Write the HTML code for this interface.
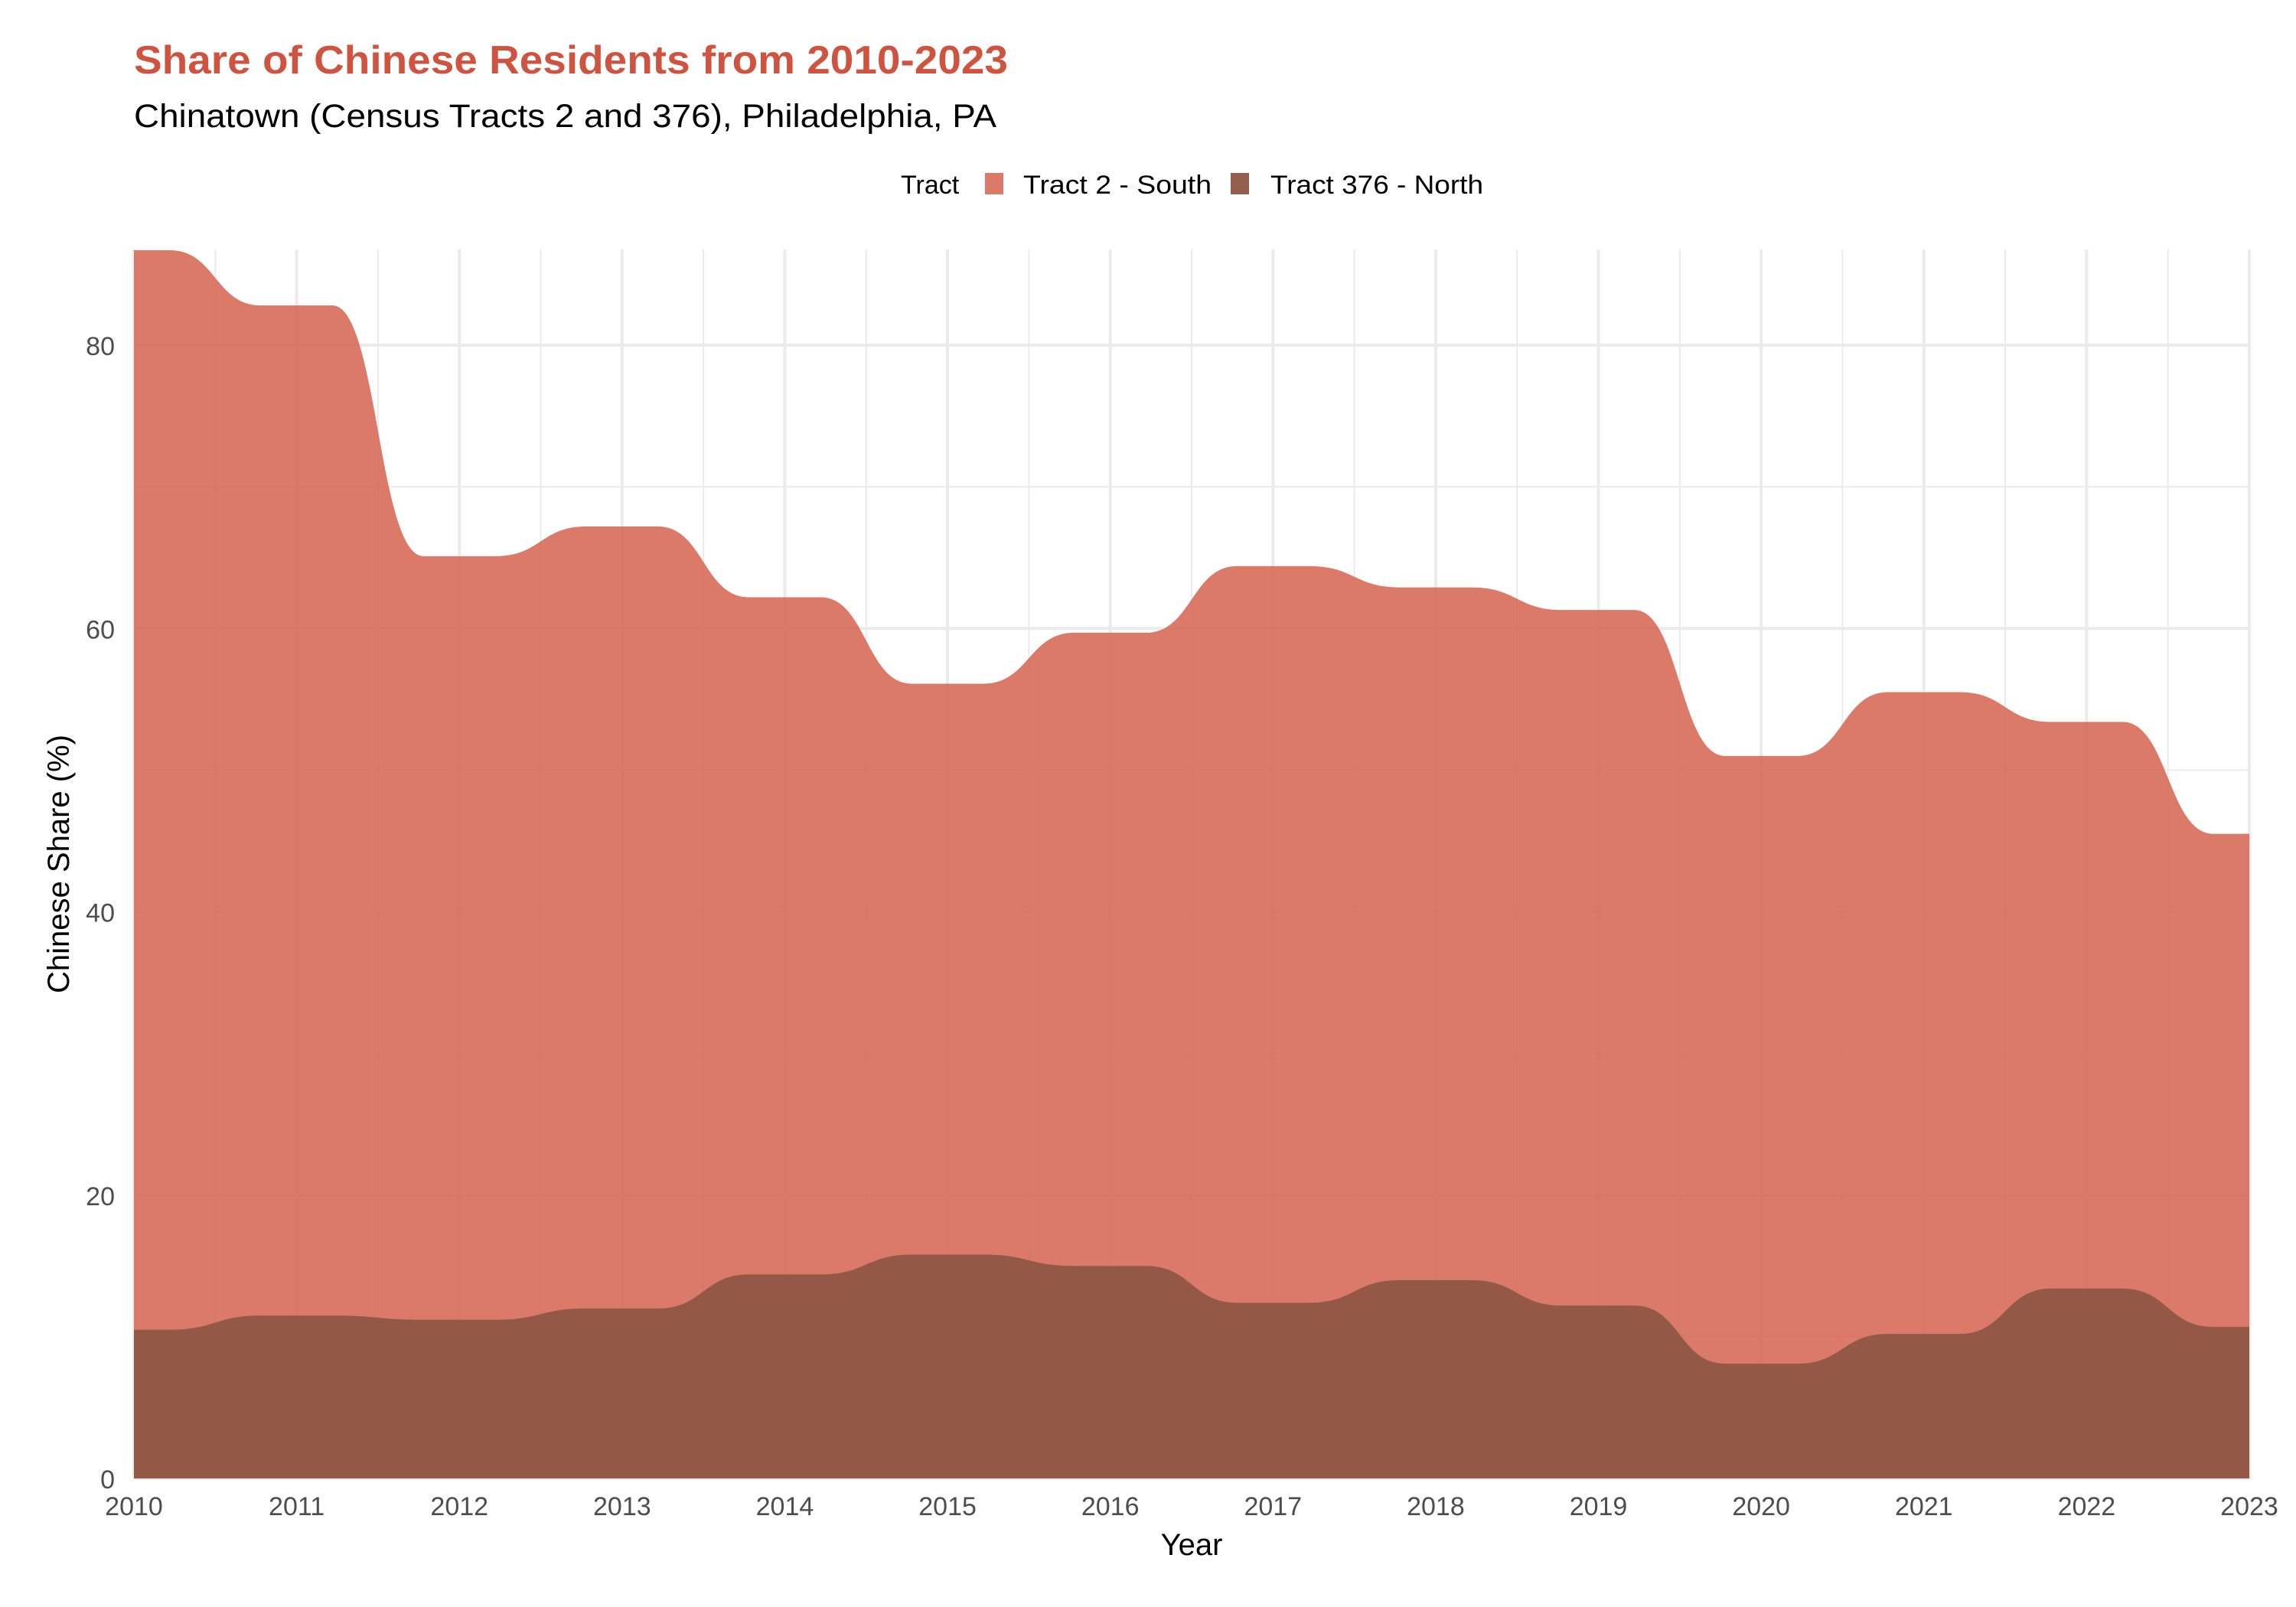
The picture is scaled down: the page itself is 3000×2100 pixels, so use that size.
<!DOCTYPE html>
<html><head><meta charset="utf-8"><style>
html,body{margin:0;padding:0;background:#fff;}
svg{display:block;font-family:"Liberation Sans",Arial,sans-serif;}
</style></head><body>
<svg id="chart" width="3000" height="2100" viewBox="0 0 3000 2100" xmlns="http://www.w3.org/2000/svg">
<text x="175" y="96" font-size="52" font-weight="bold" fill="#cf5440" textLength="1142" lengthAdjust="spacingAndGlyphs">Share of Chinese Residents from 2010-2023</text>
<text x="175" y="166" font-size="43" fill="#000" textLength="1127" lengthAdjust="spacingAndGlyphs">Chinatown (Census Tracts 2 and 376), Philadelphia, PA</text>
<g>
<text x="1177" y="253" font-size="34" fill="#000">Tract</text>
<rect x="1287" y="226" width="24" height="28" fill="#db7a69"/>
<text x="1337" y="253" font-size="34" fill="#000" textLength="246" lengthAdjust="spacingAndGlyphs">Tract 2 - South</text>
<rect x="1608" y="226" width="24" height="28" fill="#955f4e"/>
<text x="1660" y="253" font-size="34" fill="#000" textLength="278" lengthAdjust="spacingAndGlyphs">Tract 376 - North</text>
</g>
<g id="grid"></g>
<g id="areas"></g>
<g id="axes"></g>
<text x="1557" y="2032" font-size="40" text-anchor="middle" fill="#000">Year</text>
<text x="0" y="0" font-size="40" text-anchor="middle" fill="#000" transform="translate(90,1129) rotate(-90)">Chinese Share (%)</text>
</svg>
<script>
const years = [2010,2011,2012,2013,2014,2015,2016,2017,2018,2019,2020,2021,2022,2023];
const totalShare = [86.7,82.8,65.1,67.2,62.2,56.1,59.7,64.4,62.9,61.3,51.0,55.5,53.4,45.5];
const northShare = [10.5,11.5,11.2,12.0,14.4,15.8,15.0,12.4,14.0,12.2,8.1,10.2,13.4,10.7];
const yTicks = [0,20,40,60,80];
const yMinor = [10,30,50,70];

const X0=175,X1=2939,Y0=1932,YTOP=326;
const yMax=(Y0-YTOP)/((Y0-451)/80);
const xs=v=>X0+(v-2010)/(2023-2010)*(X1-X0);
const ys=v=>Y0-v/yMax*(Y0-YTOP);
const NS='http://www.w3.org/2000/svg';
function mk(tag,attrs,parent){const e=document.createElementNS(NS,tag);for(const k in attrs)e.setAttribute(k,attrs[k]);parent.appendChild(e);return e;}
const grid=document.getElementById('grid'),areas=document.getElementById('areas'),axes=document.getElementById('axes');

yMinor.forEach(v=>{const l=mk('line',{x1:X0,x2:X1,y1:ys(v),y2:ys(v),stroke:'#ebebeb','stroke-width':2},grid);

});
yTicks.forEach(v=>{const l=mk('line',{x1:X0,x2:X1,y1:ys(v),y2:ys(v),stroke:'#ebebeb','stroke-width':4},grid);


const t=mk('text',{x:150,y:ys(v)+13,'font-size':34,'text-anchor':'end',fill:'#4d4d4d'},axes);t.textContent=v;

});
years.forEach((yr,i)=>{const l=mk('line',{x1:xs(yr),x2:xs(yr),y1:YTOP,y2:Y0,stroke:'#ebebeb','stroke-width':4},grid);


if(i<years.length-1){const m=mk('line',{x1:xs(yr+0.5),x2:xs(yr+0.5),y1:YTOP,y2:Y0,stroke:'#ebebeb','stroke-width':2},grid);

}
const t=mk('text',{x:xs(yr),y:1980,'font-size':34,'text-anchor':'middle',fill:'#4d4d4d'},axes);t.textContent=yr;

});

const P=0.22;
function curve(vals){
  let d='';
  vals.forEach((v,i)=>{
    const yr=years[i];const a=Math.max(2010,yr-P),b=Math.min(2023,yr+P);
    if(i===0)d+=`M${xs(a)},${ys(v)}`;
    else{const pa=years[i-1]+P,pv=vals[i-1];const mid=(xs(pa)+xs(a))/2;
      d+=` C${mid},${ys(pv)} ${mid},${ys(v)} ${xs(a)},${ys(v)}`;}
    d+=` L${xs(b)},${ys(v)}`;
  });
  return d;
}
const south=mk('path',{d:curve(totalShare)+` L${X1},${Y0} L${X0},${Y0} Z`,fill:'#d76b58','fill-opacity':0.9},areas);


const north=mk('path',{d:curve(northShare)+` L${X1},${Y0} L${X0},${Y0} Z`,fill:'#8c5542','fill-opacity':0.9},areas);


</script>
</body></html>
